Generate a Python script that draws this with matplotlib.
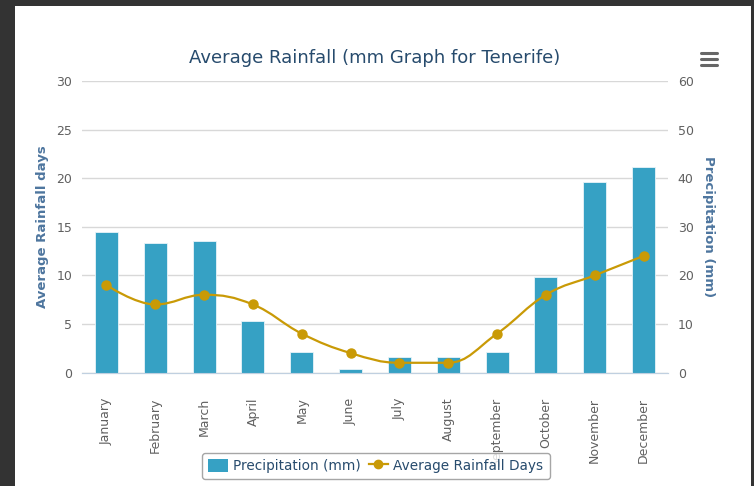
import matplotlib
matplotlib.use("Agg")
import matplotlib.pyplot as plt
from matplotlib.path import Path
from matplotlib.patches import PathPatch, Rectangle, Patch
from matplotlib.lines import Line2D
import numpy as np

months = ["January", "February", "March", "April", "May", "June",
          "July", "August", "September", "October", "November", "December"]
precip_mm = [29, 26.7, 27.1, 10.7, 4.2, 0.7, 3.1, 3.1, 4.3, 19.7, 39.3, 42.4]
rain_days = [9, 7, 8, 7, 4, 2, 1, 1, 4, 8, 10, 12]

bar_color = "#36a1c4"
line_color = "#c99a06"
title_color = "#274b6d"
axis_title_color = "#4d759e"
label_color = "#606060"


def spline_path(xs, ys, smoothing=1.5):
    # highcharts-style spline: bezier control points around each point
    denom = smoothing + 1
    verts = [(xs[0], ys[0])]
    codes = [Path.MOVETO]
    n = len(xs)
    ctrl = []
    for i in range(n):
        if i == 0 or i == n - 1:
            ctrl.append(((xs[i], ys[i]), (xs[i], ys[i])))
            continue
        x, y = xs[i], ys[i]
        lx = (smoothing * x + xs[i - 1]) / denom
        ly = (smoothing * y + ys[i - 1]) / denom
        rx = (smoothing * x + xs[i + 1]) / denom
        ry = (smoothing * y + ys[i + 1]) / denom
        corr = ((ry - ly) * (rx - x)) / (rx - lx) + y - ry
        ly += corr
        ry += corr
        if ly > ys[i - 1] and ly > y:
            ly = max(ys[i - 1], y)
            ry = 2 * y - ly
        elif ly < ys[i - 1] and ly < y:
            ly = min(ys[i - 1], y)
            ry = 2 * y - ly
        if ry > ys[i + 1] and ry > y:
            ry = max(ys[i + 1], y)
            ly = 2 * y - ry
        elif ry < ys[i + 1] and ry < y:
            ry = min(ys[i + 1], y)
            ly = 2 * y - ry
        ctrl.append(((lx, ly), (rx, ry)))
    for i in range(1, n):
        verts += [ctrl[i - 1][1], ctrl[i][0], (xs[i], ys[i])]
        codes += [Path.CURVE4] * 3
    return Path(verts, codes)


W, H = 754, 486
fig = plt.figure(figsize=(W / 100, H / 100), dpi=100, facecolor="#333333")
fig.add_artist(Rectangle((15 / W, 0), (751 - 15) / W, (H - 6) / H,
                         transform=fig.transFigure, facecolor="white",
                         edgecolor="none", zorder=0))

left, right, top, bottom = 82, 668, 81, 372.5
ax = fig.add_axes([left / W, (H - bottom) / H, (right - left) / W, (bottom - top) / H])
ax.set_facecolor("none")
ax2 = ax.twinx()
x = np.arange(len(months))

# bars on the precipitation (right) axis
ax.bar(x, precip_mm, width=0.47, color=bar_color, edgecolor="#e8f3f8", linewidth=0.6, zorder=3)
ax.set_ylim(0, 60)
ax.set_yticks(np.arange(0, 61, 10))
ax.yaxis.tick_right()
ax.yaxis.set_label_position("right")
ax.set_ylabel("Precipitation (mm)", color=axis_title_color, fontweight="bold",
              fontsize=9.5, rotation=-90, labelpad=15)
ax.grid(axis="y", color="#d8d8d8", linewidth=1, zorder=0)
ax.set_axisbelow(True)
ax.set_xlim(-0.5, len(months) - 0.5)

# rainfall days on the left axis
ax2.yaxis.tick_left()
ax2.yaxis.set_label_position("left")
ax2.set_ylim(0, 30)
ax2.set_yticks(np.arange(0, 31, 5))
ax2.set_ylabel("Average Rainfall days", color=axis_title_color, fontweight="bold",
               fontsize=9.5, labelpad=5)
ax2.add_patch(PathPatch(spline_path(x.astype(float), [float(v) for v in rain_days]),
                        facecolor="none", edgecolor=line_color, linewidth=1.6, zorder=4))
ax2.plot(x, rain_days, linestyle="none", marker="o", markersize=6.5,
         color=line_color, zorder=5)

for a in (ax, ax2):
    for s in ("top", "left", "right"):
        a.spines[s].set_visible(False)
    a.spines["bottom"].set_color("#c0d0e0")
    a.tick_params(axis="y", length=0, labelsize=9, labelcolor=label_color, pad=7)

# x ticks at category boundaries, labels at centres
ax.set_xticks(np.arange(-0.5, len(months), 1))
ax.set_xticklabels([])
ax.tick_params(axis="x", which="major", length=5, color="#c0d0e0", width=1)
ax.set_xticks(x, minor=True)
ax.set_xticklabels(months, minor=True, rotation=90, ha="center", va="top")
ax.tick_params(axis="x", which="minor", length=0, pad=18, labelsize=9, labelcolor=label_color)
ax2.set_xticks([])

fig.text(375 / W, 1 - 58 / H, "Average Rainfall (mm Graph for Tenerife)",
         ha="center", va="center", fontsize=13, color=title_color)

# menu icon
for yy in (53.5, 59.3, 65.2):
    fig.add_artist(Line2D([701 / W, 717 / W], [1 - yy / H, 1 - yy / H],
                          transform=fig.transFigure, color="#666666",
                          linewidth=2.2, solid_capstyle="round"))

handles = [Patch(facecolor=bar_color, edgecolor="none"),
           Line2D([], [], color=line_color, marker="o", markersize=6, linewidth=1.6)]
leg = fig.legend(handles, ["Precipitation (mm)", "Average Rainfall Days"],
                 loc="center", bbox_to_anchor=(376 / W, 1 - 466 / H), ncol=2,
                 frameon=True, fontsize=9.8, handlelength=1.4, handleheight=1.1,
                 columnspacing=0.6, handletextpad=0.4, borderpad=0.45,
                 fancybox=True, edgecolor="#909090", labelcolor=title_color)
leg.get_frame().set_linewidth(1)

fig.savefig("out.png", dpi=100, facecolor=fig.get_facecolor())
